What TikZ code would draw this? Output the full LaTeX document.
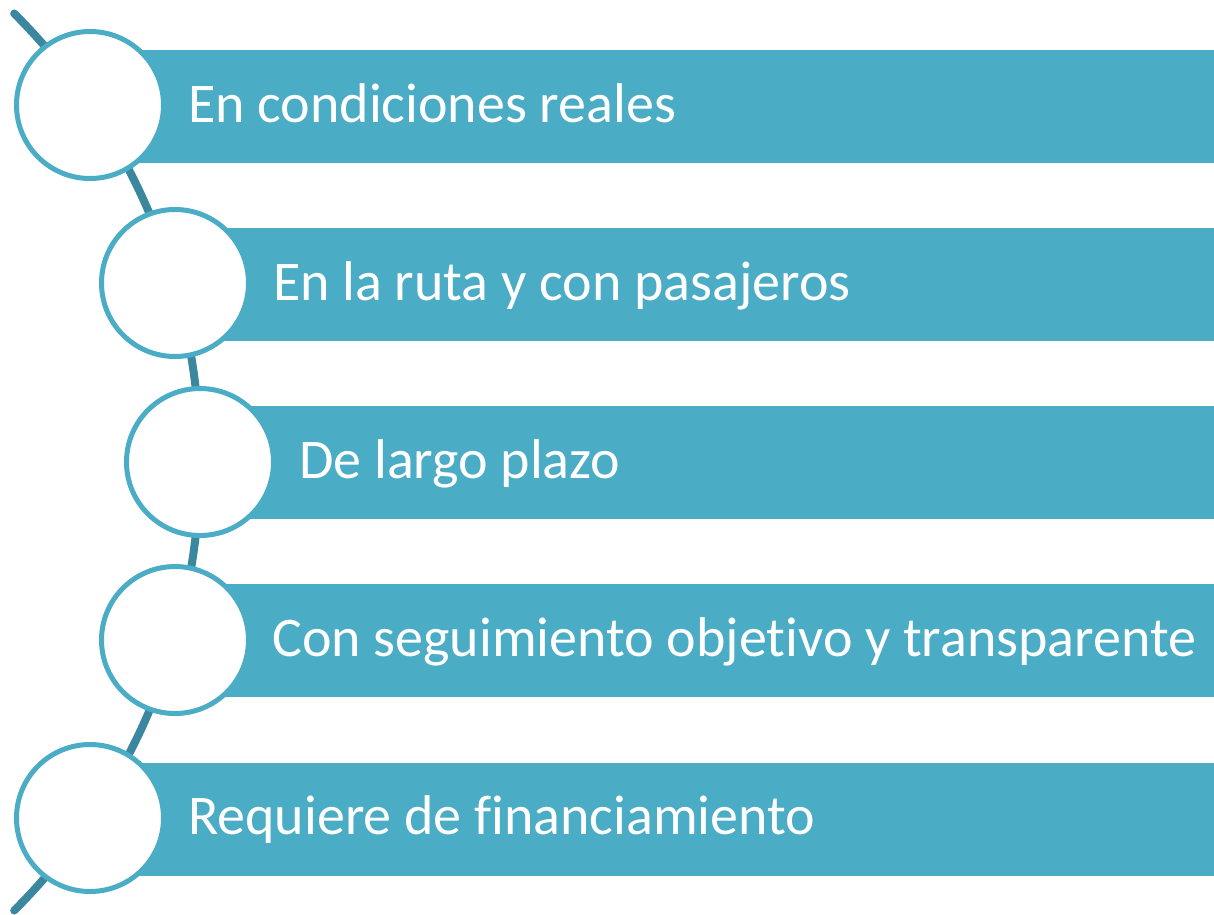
\documentclass[tikz,border=0pt]{standalone}
\usepackage{fontspec}
\setmainfont[Ligatures={NoCommon,NoContextual}]{Carlito}
\definecolor{barblue}{HTML}{4BACC6}
\definecolor{linkteal}{HTML}{3A879F}
\begin{document}
\begin{tikzpicture}[x=1pt,y=-1pt,
  bar/.style={fill=barblue, draw=none, inner sep=0pt, minimum height=113pt, anchor=west},
  ring/.style={circle, fill=white, draw=barblue, line width=5pt, minimum size=147pt, inner sep=0pt},
  label/.style={anchor=base west, text=white, inner sep=0pt, font=\fontsize{56}{60}\selectfont},
  link/.style={draw=linkteal, line width=8pt, line cap=round}]
\useasboundingbox (0,0) rectangle (1214,914);
% connecting arc
\draw[link] (-434.3,462) ++(-45.0:634.3) coordinate (top) arc[start angle=-45.0, end angle=45.0, radius=634.3] coordinate (bottom);
% bars
\node[bar, minimum width=1124pt] (b1) at (90,106) {};
\node[bar, minimum width=1039pt] (b2) at (175,284.5) {};
\node[bar, minimum width=1014pt] (b3) at (200,462.5) {};
\node[bar, minimum width=1039pt] (b4) at (175,640.5) {};
\node[bar, minimum width=1124pt] (b5) at (90,819) {};
% circles
\node[ring] (c1) at (90,105) {};
\node[ring] (c2) at (175,283) {};
\node[ring] (c3) at (200,462) {};
\node[ring] (c4) at (175,640) {};
\node[ring] (c5) at (90,818) {};
% labels
\node[label] (t1) at (188,122) {En condiciones reales};
\node[label] (t2) at (273,300) {En la ruta y con pasajeros};
\node[label] (t3) at (299,478) {De largo plazo};
\node[label] (t4) at (272,656) {Con seguimiento objetivo y transparente};
\node[label] (t5) at (188,834) {Requiere de financiamiento};
\end{tikzpicture}
\end{document}
